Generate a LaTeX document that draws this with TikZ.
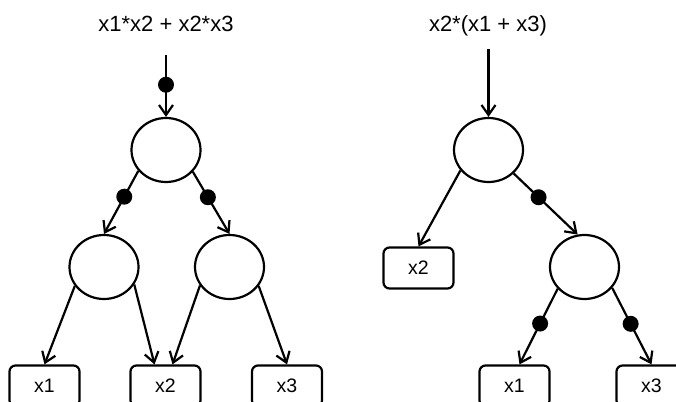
\documentclass[tikz,border=0pt]{standalone}
\usepackage{fontspec}
\setmainfont{Liberation Sans}
\usetikzlibrary{arrows.meta,shapes.geometric}

\begin{document}
\begin{tikzpicture}[x=1pt,y=-1pt]
		\tikzstyle{op}=[ellipse,draw,line width=2.2pt,minimum width=69pt,minimum height=64pt,inner sep=0pt]
		\tikzstyle{leaf}=[rectangle,draw,line width=2.2pt,rounded corners=6pt,minimum width=70pt,minimum height=41pt,inner sep=0pt,font=\fontsize{19.5}{22}\selectfont]
		\tikzstyle{title}=[anchor=base,font=\fontsize{22}{26}\selectfont]
		\tikzstyle{dot}=[circle,fill=black,inner sep=0pt,minimum size=16pt]
		\tikzstyle{link}=[line width=2.2pt,-{Straight Barb[length=10pt,width=14pt]}]
		
		\clip (0,0) rectangle (676,401);
		\useasboundingbox (0,0) rectangle (676,401);
		
		% left tree
		\node[title] (t1) at (166,32) {x1*x2 + x2*x3};
		\coordinate (s1) at (166,55);
		\node[op] (a) at (166,150) {};
		\node[op] (b) at (104,267) {};
		\node[op] (c) at (229.5,267) {};
		\node[leaf] (l1) at (44.5,386) {x1};
		\node[leaf] (l2) at (165.5,386) {x2};
		\node[leaf] (l3) at (287,386) {x3};
		
		\draw [link] (s1) -- node[dot,pos=0.48] (d1) {} (a);
		\draw [link] (a.217) -- node[dot,pos=0.41] (d2) {} (b.north);
		\draw [link] (a.321) -- node[dot,pos=0.41] (d3) {} (c.north);
		\draw [link] (b.213) -- (l1.north);
		\draw [link] (b.330) -- ([xshift=-11pt]l2.north);
		\draw [link] (c.212) -- ([xshift=7pt]l2.north);
		\draw [link] (c.327) -- (l3.north);
		
		% right tree
		\node[title] (t2) at (488,32) {x2*(x1 + x3)};
		\coordinate (s2) at (488.5,49);
		\node[op] (p) at (488.5,150) {};
		\node[leaf] (r2) at (418.5,268) {x2};
		\node[op] (q) at (584.5,267) {};
		\node[leaf] (r1) at (514.5,386) {x1};
		\node[leaf] (r3) at (651.5,386) {x3};
		
		\draw [link] (s2) -- (p);
		\draw [link] (p.216) -- (r2.north);
		\draw [link] (p.317) -- node[dot,pos=0.39] (d4) {} (q.102);
		\draw [link] (q.219) -- node[dot,pos=0.46] (d5) {} ([xshift=5pt]r1.north);
		\draw [link] (q.323) -- node[dot,pos=0.47] (d6) {} (r3.north);
\end{tikzpicture}
\end{document}
